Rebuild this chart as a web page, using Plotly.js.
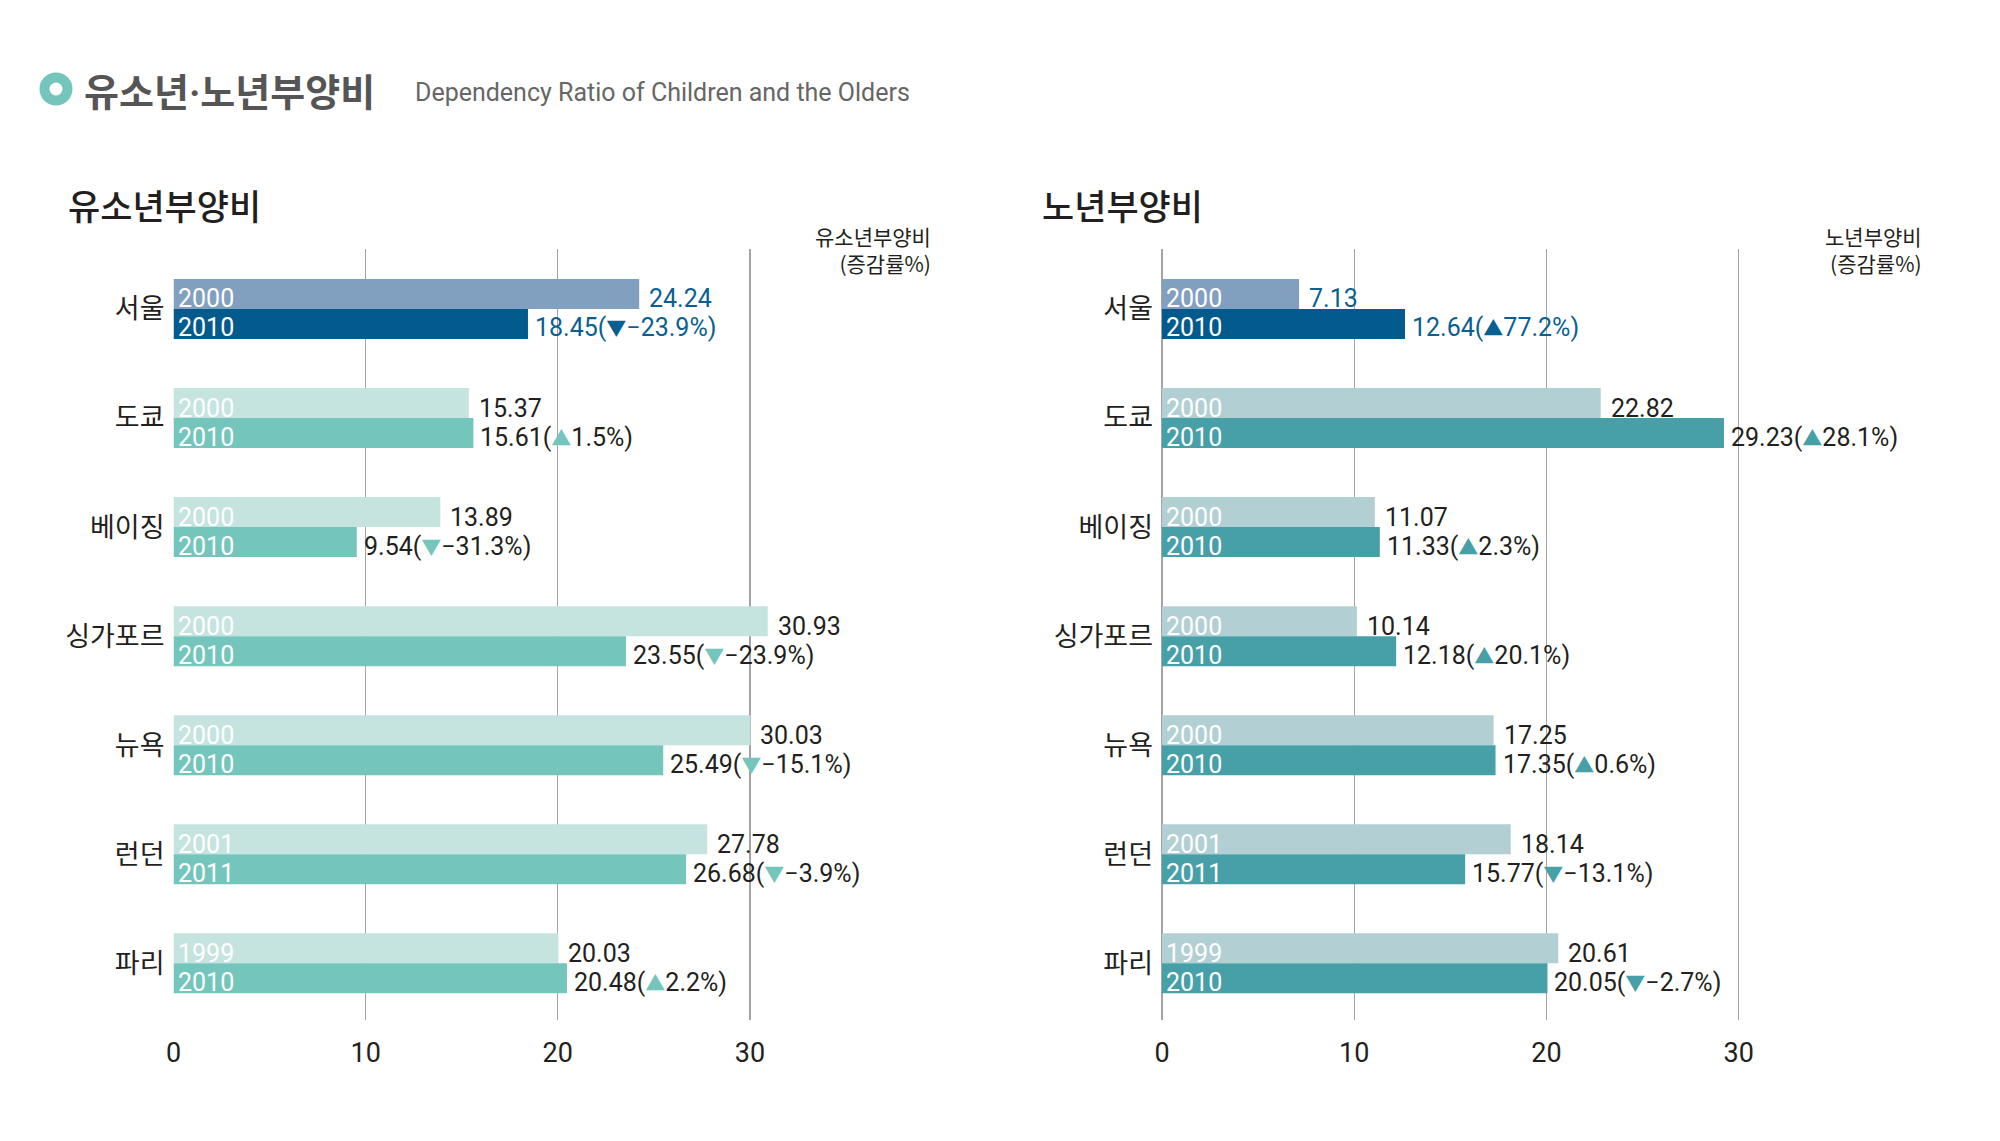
<!DOCTYPE html>
<html><head><meta charset="utf-8">
<script src="https://cdn.plot.ly/plotly-3.0.1.min.js"></script>
<style>html,body{margin:0;padding:0;background:#fff}#chart{width:2000px;height:1141px}</style>
</head><body><div id="chart"></div>
<script>
// ---- data ----
const cities = ['서울','도쿄','베이징','싱가포르','뉴욕','런던','파리'];
const yearA = ['2000','2000','2000','2000','2000','2001','1999'];
const yearB = ['2010','2010','2010','2010','2010','2011','2010'];
const youthA = [24.24,15.37,13.89,30.93,30.03,27.78,20.03];
const youthB = [18.45,15.61,9.54,23.55,25.49,26.68,20.48];
const youthChg = [-23.9,1.5,-31.3,-23.9,-15.1,-3.9,2.2];
const oldA = [7.13,22.82,11.07,10.14,17.25,18.14,20.61];
const oldB = [12.64,29.23,11.33,12.18,17.35,15.77,20.05];
const oldChg = [77.2,28.1,2.3,20.1,0.6,-13.1,-2.7];
const xTicks = [0,10,20,30];

// ---- style ----
const W = 2000, H = 1141;
const NUMF = "Roboto,'Noto Sans CJK KR',sans-serif";
const KRF = "'Noto Sans CJK KR','Noto Sans',sans-serif";
const DARK = '#231f20';
const SEOUL_A = '#819fbf', SEOUL_B = '#035a8c', SEOUL_T = '#0a5f92';
const L_A = '#c5e4e0', L_B = '#74c6bc';
const R_A = '#b2d0d3', R_B = '#47a0a8';
const px = v => v / W, py = v => 1 - v / H;

function colors(base, seoul) { return cities.map((c, i) => i === 0 ? seoul : base); }

function barTrace(vals, col, xa, ya) {
  return {
    type: 'bar', orientation: 'h', y: cities, x: vals,
    xaxis: xa, yaxis: ya,
    marker: {color: col, line: {width: 0}},
    hoverinfo: 'x+y', showlegend: false
  };
}

function fmt(v) { return v.toFixed(2); }
function chgText(c, triColor) {
  const tri = c < 0 ? '▼' : '▲';
  const num = c < 0 ? '−' + Math.abs(c).toFixed(1) : c.toFixed(1);
  return '(<span style="color:' + triColor + ';font-size:20px">' + tri + '</span>' + num + '%)';
}

function chartAnns(A, B, chg, xr, yr, triCol) {
  const out = [];
  cities.forEach((c, i) => {
    const tc = i === 0 ? SEOUL_T : DARK;
    const tri = i === 0 ? SEOUL_T : triCol;
    out.push({xref: xr, yref: yr, x: 0, y: c, xanchor: 'left', yanchor: 'middle',
      xshift: 2, yshift: 10, showarrow: false, text: yearA[i],
      font: {family: NUMF, size: 25, color: '#ffffff'}});
    out.push({xref: xr, yref: yr, x: 0, y: c, xanchor: 'left', yanchor: 'middle',
      xshift: 2, yshift: -19, showarrow: false, text: yearB[i],
      font: {family: NUMF, size: 25, color: '#ffffff'}});
    out.push({xref: xr, yref: yr, x: A[i], y: c, xanchor: 'left', yanchor: 'middle',
      xshift: 8, yshift: 10, showarrow: false, text: fmt(A[i]),
      font: {family: NUMF, size: 25, color: tc}});
    out.push({xref: xr, yref: yr, x: B[i], y: c, xanchor: 'left', yanchor: 'middle',
      xshift: 5, yshift: -19, showarrow: false, text: fmt(B[i]) + chgText(chg[i], tri),
      font: {family: NUMF, size: 25, color: tc}});
  });
  return out;
}

const data = [
  barTrace(youthA, colors(L_A, SEOUL_A), 'x', 'y'),
  barTrace(youthB, colors(L_B, SEOUL_B), 'x', 'y'),
  barTrace(oldA, colors(R_A, SEOUL_A), 'x2', 'y2'),
  barTrace(oldB, colors(R_B, SEOUL_B), 'x2', 'y2')
];

const yDom = [py(1020), py(249)];
const yRange = [6.52, -0.55];
function xAxis(dom, anchor, zeroCol) {
  return {domain: dom, anchor: anchor, range: [0, 40], tickvals: xTicks, ticktext: xTicks.map(String),
    showgrid: true, gridcolor: '#a4a4a4', gridwidth: 1.4,
    zeroline: true, zerolinecolor: zeroCol, zerolinewidth: 1.4,
    showline: false, ticks: '', ticklabelstandoff: 14,
    tickfont: {family: NUMF, size: 27, color: DARK}, fixedrange: true};
}
function yAxis(anchor) {
  return {domain: yDom, anchor: anchor, type: 'category', range: yRange,
    showgrid: false, zeroline: false, showline: false, ticks: '', ticklabelstandoff: 8,
    tickfont: {family: KRF, size: 27, color: DARK, weight: 400}, fixedrange: true};
}

const annotations = [
  {xref: 'paper', yref: 'paper', x: px(82), y: py(89), xanchor: 'left', yanchor: 'middle', showarrow: false,
   text: '<b>유소년<span style="font-family:Roboto">·</span>노년부양비</b>', font: {family: KRF, size: 38, color: '#555555'}},
  {xref: 'paper', yref: 'paper', x: px(413), y: py(93), xanchor: 'left', yanchor: 'middle', showarrow: false,
   text: 'Dependency Ratio of Children and the Olders', font: {family: NUMF, size: 25, color: '#666666'}},
  {xref: 'paper', yref: 'paper', x: px(66), y: py(204), xanchor: 'left', yanchor: 'middle', showarrow: false,
   text: '유소년부양비', font: {family: KRF, size: 35, color: DARK, weight: 500}},
  {xref: 'paper', yref: 'paper', x: px(1040), y: py(204), xanchor: 'left', yanchor: 'middle', showarrow: false,
   text: '노년부양비', font: {family: KRF, size: 35, color: DARK, weight: 500}},
  {xref: 'paper', yref: 'paper', x: px(933), y: py(250), xanchor: 'right', yanchor: 'middle', showarrow: false, align: 'right',
   text: '유소년부양비<br>(증감률%)', font: {family: KRF, size: 21, color: DARK}},
  {xref: 'paper', yref: 'paper', x: px(1924), y: py(250), xanchor: 'right', yanchor: 'middle', showarrow: false, align: 'right',
   text: '노년부양비<br>(증감률%)', font: {family: KRF, size: 21, color: DARK}}
].concat(chartAnns(youthA, youthB, youthChg, 'x', 'y', L_B))
 .concat(chartAnns(oldA, oldB, oldChg, 'x2', 'y2', R_B));

const layout = {
  width: W, height: H, margin: {l: 0, r: 0, t: 0, b: 0},
  paper_bgcolor: '#ffffff', plot_bgcolor: 'rgba(0,0,0,0)',
  barmode: 'group', bargap: 0.45, bargroupgap: 0,
  xaxis: xAxis([px(173.5), px(942)], 'y', '#ffffff'),
  yaxis: yAxis('x'),
  xaxis2: xAxis([px(1162), px(1931)], 'y2', '#a4a4a4'),
  yaxis2: yAxis('x2'),
  annotations: annotations,
  shapes: [{type: 'circle', xref: 'paper', yref: 'paper',
    x0: px(56 - 11.5), x1: px(56 + 11.5), y0: py(89 + 11.5), y1: py(89 - 11.5),
    line: {color: '#74c6bc', width: 10}, fillcolor: '#ffffff'}]
};

Plotly.newPlot('chart', data, layout, {displayModeBar: false, staticPlot: true});
</script></body></html>
